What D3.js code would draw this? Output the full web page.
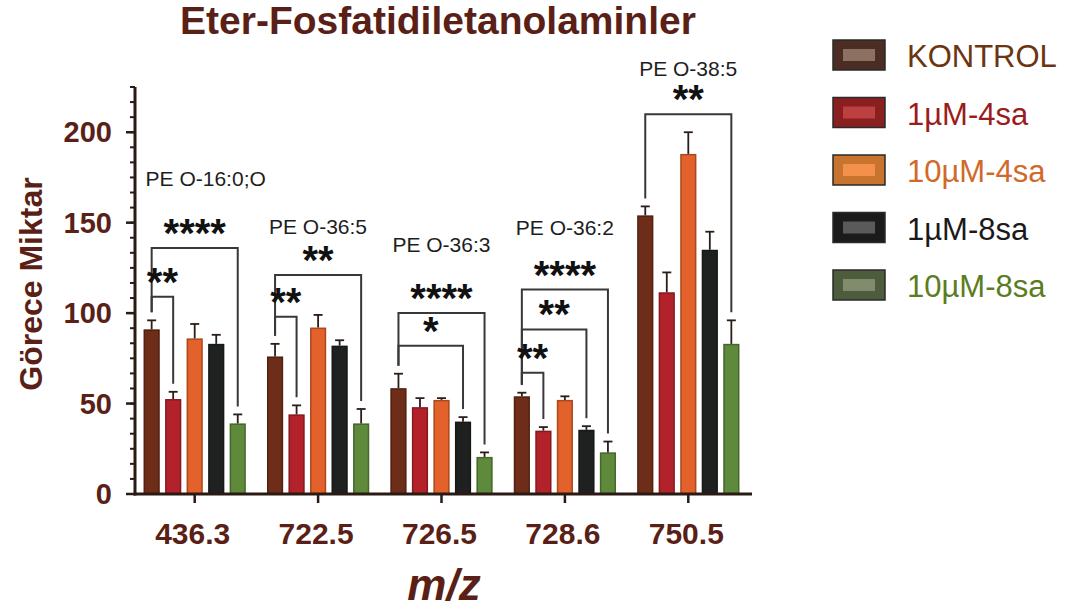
<!DOCTYPE html>
<html>
<head>
<meta charset="utf-8">
<script src="https://cdn.jsdelivr.net/npm/d3@7/dist/d3.min.js"></script>
<style>
  html, body { margin: 0; padding: 0; background: #ffffff; }
  svg { display: block; font-family: "Liberation Sans", Arial, sans-serif; }
</style>
</head>
<body>
<svg id="chart" width="1071" height="611"></svg>
<script>
// m/z categories and the lipid species assigned to each
const categories = ["436.3", "722.5", "726.5", "728.6", "750.5"];
const lipidNames = ["PE O-16:0;O", "PE O-36:5", "PE O-36:3", "PE O-36:2", "PE O-38:5"];
const lipidNameLevels = [170, 144, 134, 143, 231];

// treatment groups
const seriesNames = ["KONTROL", "1µM-4sa", "10µM-4sa", "1µM-8sa", "10µM-8sa"];

// mean relative amounts per m/z, one array per group
const kontrol   = [91, 76, 58.5, 54, 154];
const uM1_4sa   = [52.5, 44, 48, 35, 111.5];
const uM10_4sa  = [86, 92, 52, 52, 188];
const uM1_8sa   = [83, 82, 40, 35.5, 135];
const uM10_8sa  = [39, 39, 20.5, 23, 83];

// error (upper whisker) per m/z
const kontrolErr  = [5, 7, 8, 2, 5];
const uM1_4saErr  = [4, 5, 5, 2, 11];
const uM10_4saErr = [8, 7, 1, 2, 12];
const uM1_8saErr  = [5, 3, 2.5, 2, 10];
const uM10_8saErr = [5, 8, 2.5, 6, 13];

// significance brackets: category index, from group, to group, bracket level, stars
const sigCategory = [0, 0, 1, 1, 2, 2, 3, 3, 3, 4];
const sigFrom     = [0, 0, 0, 0, 0, 0, 0, 0, 0, 0];
const sigTo       = [1, 4, 1, 4, 3, 4, 1, 3, 4, 4];
const sigLevel    = [109, 136, 98, 121, 82, 100, 67, 91, 113, 210];
const sigStars    = ["**", "****", "**", "**", "*", "****", "**", "**", "****", "**"];

const yTickValues = [0, 50, 100, 150, 200];

const barColors    = ["#6e2d18", "#b3222b", "#e3622b", "#1f2120", "#5f8a3c"];
const legendText   = ["#6b3512", "#9a1c1c", "#d0692a", "#1a1a1a", "#5a7d22"];
const swatchOuter  = ["#4b2d23", "#8a1f20", "#c8742e", "#1b1b1b", "#4e5c3e"];
const swatchInner  = ["#8c7163", "#bd4040", "#f2904c", "#5a5a5a", "#808c6c"];
const ink = "#5a1f16";

const values = [kontrol, uM1_4sa, uM10_4sa, uM1_8sa, uM10_8sa];
const errors = [kontrolErr, uM1_4saErr, uM10_4saErr, uM1_8saErr, uM10_8saErr];

const svg = d3.select("#chart");

const y = d3.scaleLinear().domain([0, 225]).range([494, 87]);
const x0 = d3.scaleBand().domain(categories).range([133, 750])
  .paddingInner(0.128).paddingOuter(0.064);
const x1 = d3.scaleBand().domain(seriesNames).range([0, x0.bandwidth()])
  .paddingInner(0.25).paddingOuter(0.125);

const barCenter = (ci, si) => x0(categories[ci]) + x1(seriesNames[si]) + x1.bandwidth() / 2;

// title
svg.append("text")
  .attr("x", 438).attr("y", 34)
  .attr("text-anchor", "middle")
  .attr("font-size", 39).attr("font-weight", "bold")
  .attr("fill", ink)
  .text("Eter-Fosfatidiletanolaminler");

// bars
const rows = [];
categories.forEach((c, ci) => {
  seriesNames.forEach((s, si) => {
    rows.push({ c, ci, s, si, v: values[si][ci], e: errors[si][ci] });
  });
});

const barG = svg.append("g");
barG.selectAll("rect.bar").data(rows).join("rect")
  .attr("class", "bar")
  .attr("x", d => x0(d.c) + x1(d.s))
  .attr("width", x1.bandwidth())
  .attr("y", d => y(d.v))
  .attr("height", d => y(0) - y(d.v))
  .attr("fill", d => barColors[d.si]);

// subtle darker edges on the bars
barG.selectAll("rect.edge").data(rows).join("rect")
  .attr("class", "edge")
  .attr("x", d => x0(d.c) + x1(d.s) + 0.75)
  .attr("width", x1.bandwidth() - 1.5)
  .attr("y", d => y(d.v) + 0.75)
  .attr("height", d => Math.max(0, y(0) - y(d.v) - 0.75))
  .attr("fill", "none")
  .attr("stroke", "rgba(0,0,0,0.25)")
  .attr("stroke-width", 1.5);

// error whiskers (upper)
const errG = svg.append("g").attr("stroke", "#2b1d18").attr("stroke-width", 1.8);
errG.selectAll("line.stem").data(rows).join("line")
  .attr("x1", d => barCenter(d.ci, d.si)).attr("x2", d => barCenter(d.ci, d.si))
  .attr("y1", d => y(d.v)).attr("y2", d => y(d.v + d.e));
errG.selectAll("line.cap").data(rows).join("line")
  .attr("x1", d => barCenter(d.ci, d.si) - 4.5).attr("x2", d => barCenter(d.ci, d.si) + 4.5)
  .attr("y1", d => y(d.v + d.e)).attr("y2", d => y(d.v + d.e));

// y axis
const minorTicks = d3.range(0, 225.01, 25 / 3);
const yAxisG = svg.append("g").attr("stroke", "#2a1a14");
yAxisG.append("line").attr("x1", 135).attr("x2", 135)
  .attr("y1", y(225)).attr("y2", y(0) + 1.5).attr("stroke-width", 3);
yAxisG.selectAll("line.minor").data(minorTicks).join("line")
  .attr("x1", 130).attr("x2", 135)
  .attr("y1", d => y(d)).attr("y2", d => y(d)).attr("stroke-width", 2);
yAxisG.selectAll("line.major").data(yTickValues).join("line")
  .attr("x1", 126).attr("x2", 135)
  .attr("y1", d => y(d)).attr("y2", d => y(d)).attr("stroke-width", 2.5);
svg.append("g").selectAll("text").data(yTickValues).join("text")
  .attr("x", 112).attr("y", d => y(d) + 10)
  .attr("text-anchor", "end")
  .attr("font-size", 29).attr("font-weight", "bold")
  .attr("fill", ink)
  .text(d => d);

// x axis
const xAxisG = svg.append("g").attr("stroke", "#2a1a14");
xAxisG.append("line").attr("x1", 133.5).attr("x2", 752)
  .attr("y1", y(0)).attr("y2", y(0)).attr("stroke-width", 3);
xAxisG.selectAll("line.tick").data(categories).join("line")
  .attr("x1", d => x0(d) + x0.bandwidth() / 2).attr("x2", d => x0(d) + x0.bandwidth() / 2)
  .attr("y1", y(0)).attr("y2", y(0) + 9).attr("stroke-width", 2.5);
svg.append("g").selectAll("text").data(categories).join("text")
  .attr("x", d => x0(d) + x0.bandwidth() / 2 - 2).attr("y", 544)
  .attr("text-anchor", "middle")
  .attr("font-size", 30).attr("font-weight", "bold")
  .attr("fill", ink)
  .text(d => d);

// axis titles
svg.append("text")
  .attr("transform", "translate(42,284) rotate(-90)")
  .attr("text-anchor", "middle")
  .attr("font-size", 32).attr("font-weight", "bold")
  .attr("fill", ink)
  .text("Görece Miktar");
svg.append("text")
  .attr("x", 444).attr("y", 600)
  .attr("text-anchor", "middle")
  .attr("font-size", 44).attr("font-weight", "bold").attr("font-style", "italic")
  .attr("fill", ink)
  .text("m/z");

// lipid species labels
svg.append("g").selectAll("text").data(categories).join("text")
  .attr("x", (d, i) => x0(d) + x1(seriesNames[0]) + 2)
  .attr("y", (d, i) => y(lipidNameLevels[i]))
  .attr("font-size", 21)
  .attr("fill", "#1e1e1e")
  .text((d, i) => lipidNames[i]);

// significance brackets
const sig = sigCategory.map((ci, k) => ({
  ci, from: sigFrom[k], to: sigTo[k], level: sigLevel[k], stars: sigStars[k]
}));
const legBottom = (ci, si) => y(values[si][ci] + errors[si][ci]) - 8;

const sigG = svg.append("g");
sigG.selectAll("path").data(sig).join("path")
  .attr("fill", "none").attr("stroke", "#383838").attr("stroke-width", 2)
  .attr("d", d => {
    const xa = barCenter(d.ci, d.from), xb = barCenter(d.ci, d.to);
    return `M${xa},${legBottom(d.ci, d.from)}V${y(d.level)}H${xb}V${legBottom(d.ci, d.to)}`;
  });
sigG.selectAll("text").data(sig).join("text")
  .attr("x", d => (barCenter(d.ci, d.from) + barCenter(d.ci, d.to)) / 2)
  .attr("y", d => y(d.level) - 1)
  .attr("text-anchor", "middle")
  .attr("font-size", 40).attr("font-weight", "bold")
  .attr("fill", "#111")
  .text(d => d.stars);

// legend
const legend = svg.append("g");
const legRow = legend.selectAll("g").data(seriesNames).join("g")
  .attr("transform", (d, i) => `translate(833,${40 + i * 57.5})`);
legRow.append("rect")
  .attr("width", 52).attr("height", 30)
  .attr("fill", (d, i) => swatchOuter[i])
  .attr("stroke", "#2a2a2a").attr("stroke-width", 1.5);
legRow.append("rect")
  .attr("x", 10).attr("y", 9).attr("width", 32).attr("height", 12)
  .attr("fill", (d, i) => swatchInner[i]);
legRow.append("text")
  .attr("x", 74).attr("y", 27)
  .attr("font-size", 31)
  .attr("fill", (d, i) => legendText[i])
  .text(d => d);
</script>
</body>
</html>
